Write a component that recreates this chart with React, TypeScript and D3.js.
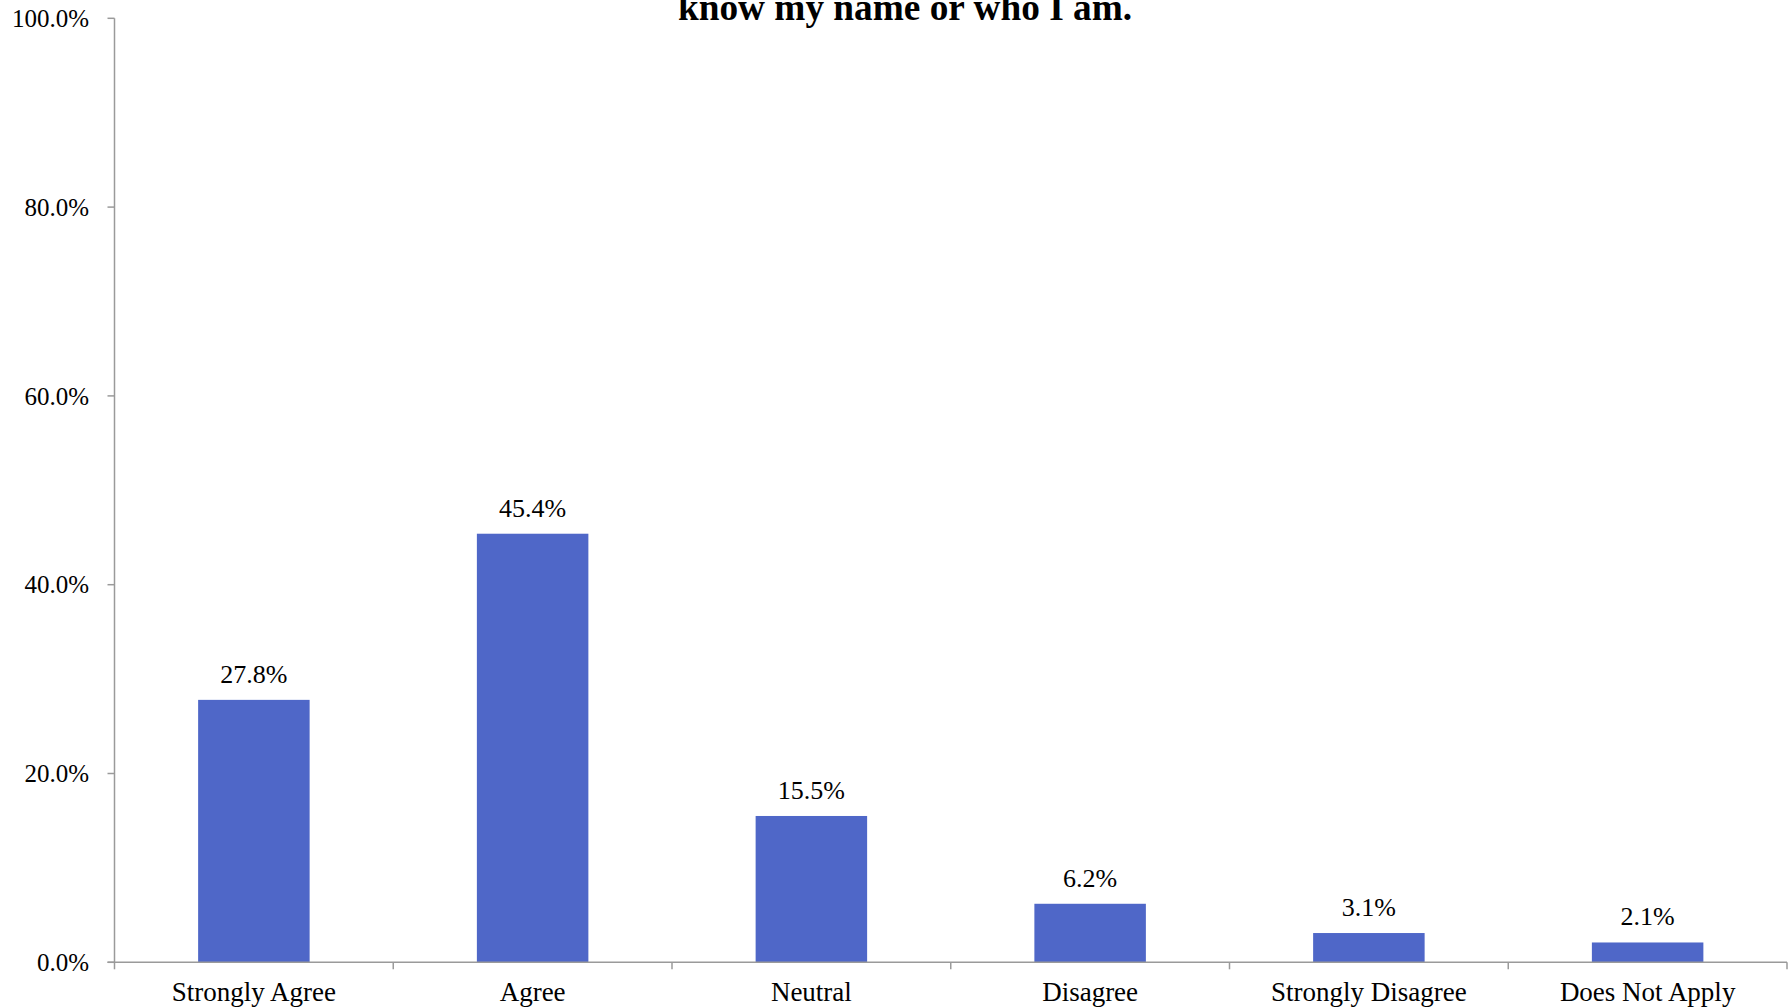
import React from "react";
import * as d3 from "d3";

const categories = ["Strongly Agree", "Agree", "Neutral", "Disagree", "Strongly Disagree", "Does Not Apply"];
const values = [27.8, 45.4, 15.5, 6.2, 3.1, 2.1];
const yTicks = [0, 20, 40, 60, 80, 100];
const titleText = "know my name or who I am.";

const W = 1792;
const H = 1008;
const left = 114.5;
const right = 1787;
const top = 18.3;
const bottom = 962.3;
const font = "'Liberation Serif', 'Times New Roman', serif";
const barColor = "#4f67c8";
const axisColor = "#9a9a9a";

export default function App() {
  const x = d3.scaleBand<string>().domain(categories).range([left, right]).paddingInner(0.6).paddingOuter(0.3);
  const y = d3.scaleLinear().domain([0, 100]).range([bottom, top]);
  const step = x.step();
  const boundaries = d3.range(categories.length + 1).map((i) => left + i * step);
  return (
    <svg width={W} height={H} style={{ position: "absolute", left: 0, top: 0, background: "#fff" }}>
      <rect x={0} y={0} width={W} height={H} fill="#fff" />
      <text x={905} y={19.5} textAnchor="middle" fontFamily={font} fontWeight="bold" fontSize={37.3} fill="#000">
        {titleText}
      </text>
      {categories.map((c, i) => (
        <g key={c}>
          <rect x={x(c)} y={y(values[i])} width={x.bandwidth()} height={bottom - y(values[i])} fill={barColor} />
          <text x={(x(c) as number) + x.bandwidth() / 2} y={y(values[i]) - 17} textAnchor="middle" fontFamily={font} fontSize={26} fill="#000">
            {values[i].toFixed(1) + "%"}
          </text>
          <text x={(x(c) as number) + x.bandwidth() / 2} y={1000.5} textAnchor="middle" fontFamily={font} fontSize={27} fill="#000">
            {c}
          </text>
        </g>
      ))}
      <line x1={left} x2={left} y1={top} y2={bottom} stroke={axisColor} strokeWidth={1.5} />
      {yTicks.map((t) => (
        <g key={t}>
          <line x1={left - 7} x2={left} y1={y(t)} y2={y(t)} stroke={axisColor} strokeWidth={1.5} />
          <text x={89} y={y(t)} dy="0.35em" textAnchor="end" fontFamily={font} fontSize={25} fill="#000">
            {t.toFixed(1) + "%"}
          </text>
        </g>
      ))}
      <line x1={left - 7} x2={right} y1={bottom} y2={bottom} stroke={axisColor} strokeWidth={1.5} />
      {boundaries.map((b, i) => (
        <line key={i} x1={b} x2={b} y1={bottom} y2={bottom + 7} stroke={axisColor} strokeWidth={1.5} />
      ))}
    </svg>
  );
}
